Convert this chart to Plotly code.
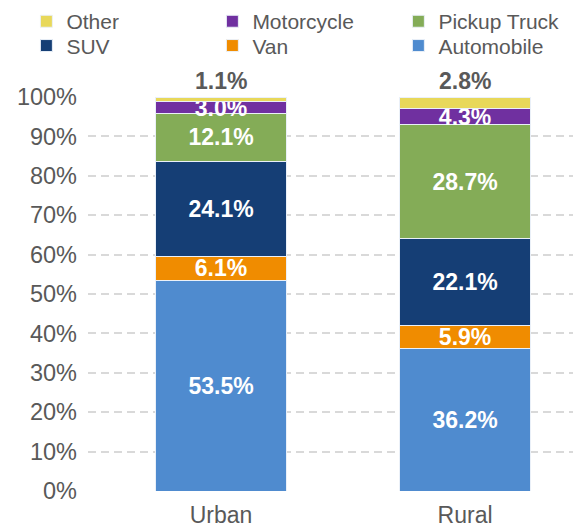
import plotly.graph_objects as go

categories = ["Urban", "Rural"]
series_names = ["Automobile", "Van", "SUV", "Pickup Truck", "Motorcycle", "Other"]
series_values = {
    "Automobile": [53.5, 36.2],
    "Van": [6.1, 5.9],
    "SUV": [24.1, 22.1],
    "Pickup Truck": [12.1, 28.7],
    "Motorcycle": [3.0, 4.3],
    "Other": [1.1, 2.8],
}
colors = {
    "Automobile": "#4F8BCF",
    "Van": "#F08C00",
    "SUV": "#153E75",
    "Pickup Truck": "#84AC57",
    "Motorcycle": "#7030A0",
    "Other": "#E8D85A",
}
legend_row = {
    "Other": "legend", "Motorcycle": "legend", "Pickup Truck": "legend",
    "SUV": "legend2", "Van": "legend2", "Automobile": "legend2",
}
y_ticks = list(range(0, 101, 10))
y_tick_labels = [f"{v}%" for v in y_ticks]

FONT = "Liberation Sans, Arial, sans-serif"
fig = go.Figure()
for name in series_names:
    vals = series_values[name]
    inside = name != "Other"
    fig.add_trace(go.Bar(
        name=name,
        x=categories,
        y=vals,
        width=0.54,
        legend=legend_row[name],
        marker=dict(color=colors[name], line=dict(color="#EAF0F8", width=1)),
        text=[f"{v:.1f}%" for v in vals] if inside else None,
        textposition="inside" if inside else "none",
        insidetextanchor="middle",
        constraintext="none",
        textfont=dict(family=FONT, size=23, color="white", weight="bold"),
        cliponaxis=False,
    ))

totals = [sum(series_values[n][i] for n in series_names) for i in range(len(categories))]
for i, c in enumerate(categories):
    fig.add_annotation(
        x=c, y=totals[i], text=f"{series_values['Other'][i]:.1f}%",
        showarrow=False, yanchor="bottom", yshift=1,
        font=dict(family=FONT, size=23, color="#595959", weight="bold"),
    )

legend_common = dict(
    orientation="h", traceorder="reversed",
    x=-0.125, xanchor="left", yanchor="top",
    entrywidth=141, entrywidthmode="pixels",
    font=dict(family=FONT, size=21, color="#595959"),
    bgcolor="rgba(0,0,0,0)",
    itemclick=False, itemdoubleclick=False,
)

fig.update_layout(
    width=573, height=520,
    barmode="stack",
    plot_bgcolor="white", paper_bgcolor="white",
    margin=dict(l=80, r=0, t=89, b=37, autoexpand=False),
    font=dict(family=FONT, color="#595959"),
    showlegend=True,
    legend=dict(y=1.2434, **legend_common),
    legend2=dict(y=1.1817, **legend_common),
    xaxis=dict(
        range=[-0.545, 1.475], showgrid=False, zeroline=False,
        showline=False, ticks="", tickfont=dict(family=FONT, size=23, color="#595959"),
        ticklabelstandoff=8,
    ),
    yaxis=dict(
        range=[0, 100], tickvals=y_ticks, ticktext=y_tick_labels,
        showgrid=True, gridcolor="#D9D9D9", gridwidth=1.5, griddash="8px,5px",
        zeroline=False, showline=False, ticks="",
        tickfont=dict(family=FONT, size=23.5, color="#595959"),
        ticklabelstandoff=10,
    ),
)
fig.write_html("out.html")
